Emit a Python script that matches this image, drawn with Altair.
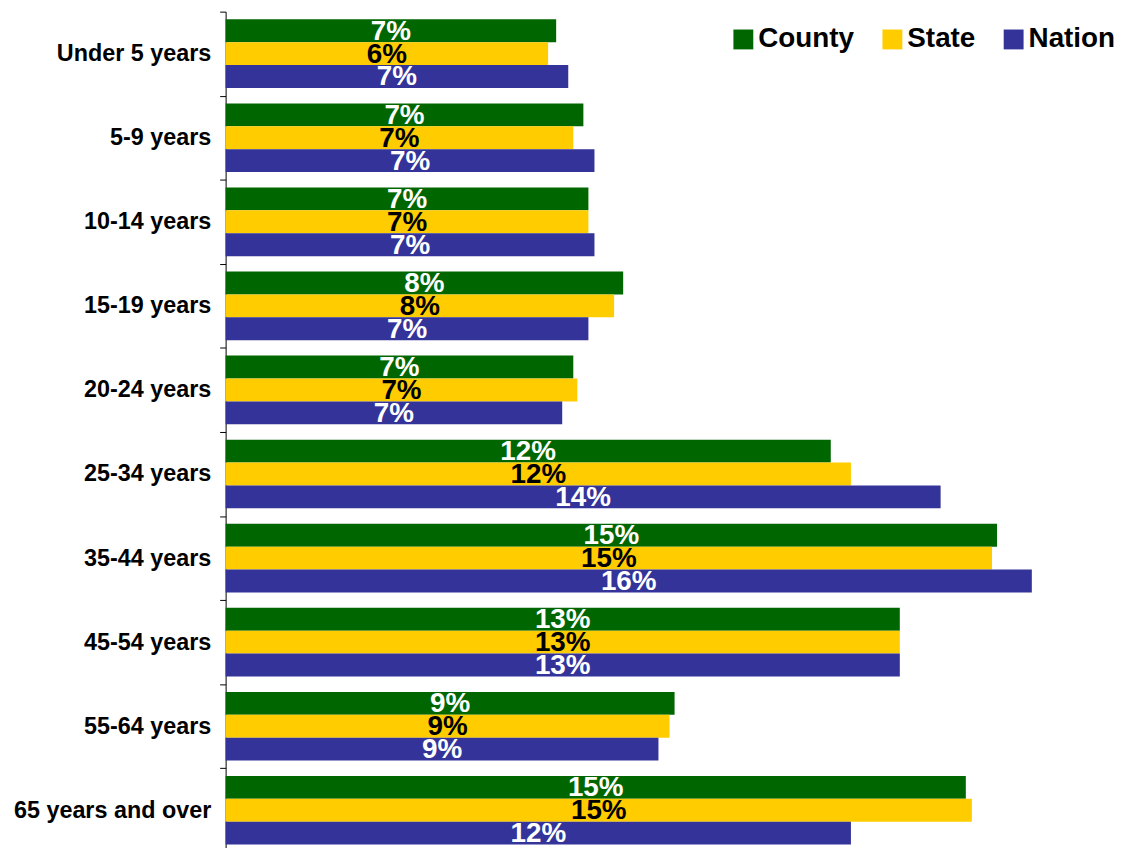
import altair as alt
import pandas as pd

categories = ["Under 5 years", "5-9 years", "10-14 years", "15-19 years", "20-24 years",
              "25-34 years", "35-44 years", "45-54 years", "55-64 years", "65 years and over"]
series = ["County", "State", "Nation"]
county = [6.56, 7.10, 7.20, 7.89, 6.90, 12.01, 15.31, 13.38, 8.91, 14.69]
state = [6.40, 6.90, 7.20, 7.71, 6.98, 12.41, 15.21, 13.38, 8.81, 14.81]
nation = [6.80, 7.32, 7.32, 7.20, 6.68, 14.19, 16.00, 13.38, 8.59, 12.41]
colors = ["#006600", "#FFCC00", "#333399"]

rows = []
for i, c in enumerate(categories):
    for s, vals in zip(series, [county, state, nation]):
        rows.append({"category": c, "series": s, "value": vals[i]})
df = pd.DataFrame(rows)

FONT = "Liberation Sans"
xscale = alt.Scale(domain=[0, 17.0], nice=False, zero=True)

base = alt.Chart(df).encode(
    y=alt.Y("category:N", sort=categories,
            scale=alt.Scale(range=[0, 846], paddingInner=0, paddingOuter=0),
            axis=alt.Axis(title=None, tickBand="extent", tickSize=6, tickColor="black",
                          domainColor="black", domainWidth=1, tickWidth=1,
                          labelFont=FONT, labelFontSize=23.5, labelFontWeight="bold",
                          labelColor="black", labelPadding=9, labelLimit=400)),
    yOffset=alt.YOffset("series:N", sort=series,
                        scale=alt.Scale(paddingInner=0, paddingOuter=0.337)),
)

bars = base.mark_bar(strokeWidth=0).encode(
    x=alt.X("value:Q", scale=xscale, axis=None),
    color=alt.Color("series:N", sort=series,
                    scale=alt.Scale(domain=series, range=colors),
                    legend=alt.Legend(title=None, orient="none", legendX=507, legendY=14,
                                      direction="horizontal", symbolType="square",
                                      symbolSize=400, symbolStrokeWidth=0, symbolOpacity=1,
                                      labelFont=FONT, labelFontSize=28, labelFontWeight="bold",
                                      labelColor="black", labelOffset=1, columnPadding=24,
                                      labelLimit=300)),
)

labels = base.transform_calculate(
    mid="datum.value / 2",
    label="round(datum.value) + '%'"
).mark_text(font=FONT, fontSize=28, fontWeight="bold", baseline="middle",
            align="center", dy=1).encode(
    x=alt.X("mid:Q", scale=xscale, axis=None),
    text="label:N",
    color=alt.condition("datum.series == 'State'", alt.value("black"), alt.value("white")),
)

chart = alt.layer(bars, labels).properties(
    width=862, height=839,
    padding={"left": 219, "top": 1, "right": 33, "bottom": 0},
    autosize=alt.AutoSizeParams(type="none"),
    background="white",
).configure_view(stroke=None)

chart.save("out.html", embed_options={"renderer": "svg", "actions": False})
